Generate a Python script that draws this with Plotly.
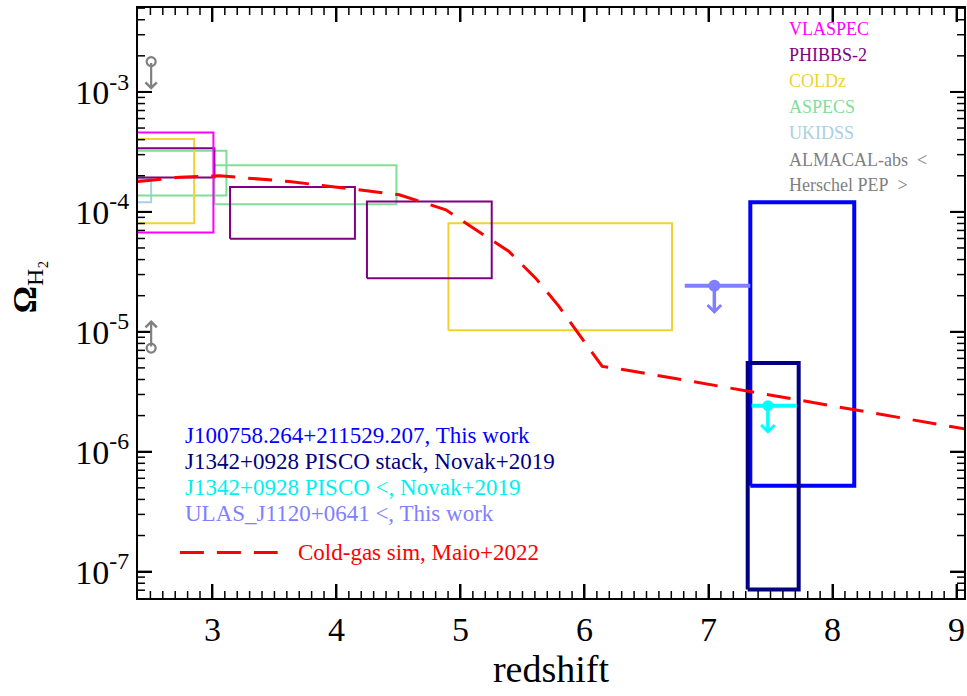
import numpy as np
import plotly.graph_objects as go

# ---------------- data ----------------
# survey boxes: redshift range and Omega_H2 range
vlaspec_z = [2.0, 3.008];   vlaspec_om = [6.73e-5, 4.58e-4]
phibbs_z = [[2.0, 3.016], [3.142, 4.149], [4.246, 5.252]]
phibbs_om = [[1.93e-4, 3.40e-4], [5.96e-5, 1.61e-4], [2.80e-5, 1.22e-4]]
coldz_z = [[2.0, 2.853], [4.903, 6.706]]
coldz_om = [[8.05e-5, 4.06e-4], [1.03e-5, 8.05e-5]]
aspecs_z = [[2.0, 3.113], [3.016, 4.484]]
aspecs_om = [[1.37e-4, 3.24e-4], [1.16e-4, 2.45e-4]]
ukidss_z = [2.0, 2.506];    ukidss_om = [1.20e-4, 1.88e-4]
j1007_z = [7.337, 8.175];   j1007_om = [5.21e-7, 1.20e-4]
pisco_stack_z = [7.316, 7.727]; pisco_stack_om = [7.08e-8, 5.48e-6]

# limits
almacal_z = 2.506;  almacal_om = 1.79e-3     # upper limit
herschel_z = 2.506; herschel_om = 7.31e-6    # lower limit
ulas_z = 7.047;     ulas_zerr = [6.808, 7.337];  ulas_om = 2.42e-5   # upper limit
pisco_z = 7.479;    pisco_zerr = [7.348, 7.71];  pisco_om = 2.42e-6  # upper limit

# simulation curve (Maio+2022)
sim_z = [2.396, 2.734, 3.056, 3.403, 3.62, 3.886, 4.184, 4.506, 4.882, 5.15,
         5.391, 5.606, 5.794, 5.969, 6.143, 6.358, 9.063]
sim_om = [1.79e-4, 1.94e-4, 2.0e-4, 1.88e-4, 1.79e-4, 1.66e-4, 1.52e-4, 1.39e-4,
          1.04e-4, 6.85e-5, 4.67e-5, 2.80e-5, 1.63e-5, 9.1e-6, 5.14e-6, 4.76e-6, 1.55e-6]

x_ticks = [3, 4, 5, 6, 7, 8, 9]
y_ticks = [1e-7, 1e-6, 1e-5, 1e-4, 1e-3]
y_ticktext = ["10<sup>-7</sup>", "10<sup>-6</sup>", "10<sup>-5</sup>", "10<sup>-4</sup>", "10<sup>-3</sup>"]

right_legend = [("VLASPEC", "#FF00FF"), ("PHIBBS-2", "#800080"), ("COLDz", "#F2D22E"),
                ("ASPECS", "#7FDF97"), ("UKIDSS", "#A9CFE0"),
                ("ALMACAL-abs\u00a0 <", "#808080"), ("Herschel PEP\u00a0 >", "#808080")]
left_legend = [("J100758.264+211529.207, This work", "#0000FF"),
               ("J1342+0928 PISCO stack, Novak+2019", "#000080"),
               ("J1342+0928 PISCO <, Novak+2019", "#00F0F0"),
               ("ULAS_J1120+0641 <, This work", "#8080FF")]
sim_label = "Cold-gas sim, Maio+2022"

# ---------------- styling ----------------
FONT = "Liberation Serif, Times New Roman, serif"
ARROW_DEX = 0.235
X_RANGE = [2.4, 9.06]
Y_RANGE = [-7.22, -2.3]
W, H = 967, 696
ML, MR, MT, MB = 138, 1, 8, 98
PW, PH = W - ML - MR, H - MT - MB
PX_PER_X = PW / (X_RANGE[1] - X_RANGE[0])     # pixels per redshift unit
PX_PER_DEX = PH / (Y_RANGE[1] - Y_RANGE[0])   # pixels per decade
C_MAG, C_PUR, C_YEL, C_GRN, C_LBL = "#FF00FF", "#800080", "#F2D22E", "#7FDF97", "#A9CFE0"

fig = go.Figure()


def seg(xs, ys, color, width, dash=None):
    fig.add_trace(go.Scatter(x=xs, y=ys, mode="lines",
                             line=dict(color=color, width=width, dash=dash),
                             hoverinfo="skip", showlegend=False))


def box(zr, omr, color, width):
    x0, x1 = zr
    y0, y1 = omr
    seg([x0, x1, x1, x0, x0], [y0, y0, y1, y1, y0], color, width)


box(ukidss_z, ukidss_om, C_LBL, 2)
for zr, omr in zip(aspecs_z, aspecs_om):
    box(zr, omr, C_GRN, 2)
for zr, omr in zip(coldz_z, coldz_om):
    box(zr, omr, C_YEL, 2)
for zr, omr in zip(phibbs_z, phibbs_om):
    box(zr, omr, C_PUR, 2)
box(vlaspec_z, vlaspec_om, C_MAG, 2)
box(j1007_z, j1007_om, "#0000FF", 4)
box(pisco_stack_z, pisco_stack_om, "#000080", 4)

# horizontal z-ranges of limits
seg(ulas_zerr, [ulas_om, ulas_om], "#8080FF", 4)
seg(pisco_zerr, [pisco_om, pisco_om], "#00FFFF", 4)

# simulation
seg(sim_z, sim_om, "#FF0000", 3, "24px,13px")


def limit_arrow(z, om, direction, color, width, size):
    ly = np.log10(om)
    tip = ly - ARROW_DEX if direction == "down" else ly + ARROW_DEX
    fig.add_annotation(x=z, y=tip, ax=z, ay=ly, xref="x", yref="y", axref="x", ayref="y",
                       text="", showarrow=True, arrowhead=4, arrowsize=size,
                       arrowwidth=width, arrowcolor=color)


limit_arrow(almacal_z, almacal_om, "down", "#808080", 2.2, 1.0)
limit_arrow(herschel_z, herschel_om, "up", "#808080", 2.2, 1.0)
limit_arrow(ulas_z, ulas_om, "down", "#8080FF", 3.5, 0.75)
limit_arrow(pisco_z, pisco_om, "down", "#00FFFF", 3.5, 0.75)

fig.add_trace(go.Scatter(x=[almacal_z, herschel_z], y=[almacal_om, herschel_om], mode="markers",
                         marker=dict(symbol="circle-open", size=9, color="#808080", line=dict(width=2.2)),
                         showlegend=False, hoverinfo="skip"))
fig.add_trace(go.Scatter(x=[ulas_z], y=[ulas_om], mode="markers",
                         marker=dict(symbol="circle", size=12, color="#8080FF"),
                         showlegend=False, hoverinfo="skip"))
fig.add_trace(go.Scatter(x=[pisco_z], y=[pisco_om], mode="markers",
                         marker=dict(symbol="circle", size=11, color="#00FFFF"),
                         showlegend=False, hoverinfo="skip"))

# ---- tick marks, inside on all four sides (axis decoration) ----
minor_x = [round(v, 1) for v in np.arange(2.5, 9.05, 0.1) if abs(v - round(v)) > 0.05]
y_lo, y_hi = 10 ** Y_RANGE[0], 10 ** Y_RANGE[1]
minor_y = [k * 10.0 ** n for n in range(-8, -1) for k in range(2, 10)
           if y_lo < k * 10.0 ** n < y_hi]


def ticks(xvals, yvals, length, width):
    dy = length / PX_PER_DEX
    dx = length / PX_PER_X
    for v in xvals:
        seg([v, v], [y_lo, 10 ** (Y_RANGE[0] + dy)], "#000000", width)
        seg([v, v], [y_hi, 10 ** (Y_RANGE[1] - dy)], "#000000", width)
    for v in yvals:
        seg([X_RANGE[0], X_RANGE[0] + dx], [v, v], "#000000", width)
        seg([X_RANGE[1], X_RANGE[1] - dx], [v, v], "#000000", width)


ticks(minor_x, minor_y, 7, 1.5)
ticks(x_ticks, y_ticks, 14, 2)

# legend texts
r_x = (789 - ML) / PW
r_y = [(H - MB - p) / PH for p in [29.3, 55, 80.7, 106.7, 132.7, 160, 185]]
for (t, c), yy in zip(right_legend, r_y):
    fig.add_annotation(x=r_x, y=yy, xref="paper", yref="paper", text=t, showarrow=False,
                       xanchor="left", yanchor="middle", font=dict(family=FONT, size=18, color=c))
l_x = (183 - ML) / PW
l_y = [(H - MB - p) / PH for p in [435, 461.7, 487.3, 513.3]]
for (t, c), yy in zip(left_legend, l_y):
    fig.add_annotation(x=l_x, y=yy, xref="paper", yref="paper", text=t, showarrow=False,
                       xanchor="left", yanchor="middle", font=dict(family=FONT, size=23, color=c))
sim_y = (H - MB - 552.5) / PH
fig.add_shape(type="line", xref="paper", yref="paper", x0=(180 - ML) / PW, x1=(278 - ML) / PW,
              y0=sim_y, y1=sim_y, line=dict(color="#FF0000", width=3, dash="24px,13px"))
fig.add_annotation(x=(296 - ML) / PW, y=sim_y, xref="paper", yref="paper", text=sim_label,
                   showarrow=False, xanchor="left", yanchor="middle",
                   font=dict(family=FONT, size=23, color="#FF0000"))

# y title
fig.add_annotation(x=(27 - ML) / PW, y=(H - MB - 287) / PH, xref="paper", yref="paper",
                   text="<b>Ω</b><sub>H₂</sub>", textangle=-90, showarrow=False,
                   xanchor="center", yanchor="middle", font=dict(family=FONT, size=34, color="black"))

common = dict(ticks="inside", ticklen=14, tickwidth=2, tickcolor="#000000",
              showline=True, linewidth=2, linecolor="#000000",
              mirror="allticks", showgrid=False, zeroline=False)

fig.update_layout(
    width=W, height=H, margin=dict(l=ML, r=MR, t=MT, b=MB),
    paper_bgcolor="white", plot_bgcolor="white", showlegend=False,
    font=dict(family=FONT, color="black"),
    xaxis=dict(range=X_RANGE, tickmode="array", tickvals=x_ticks,
               tickfont=dict(family=FONT, size=34),
               title=dict(text="redshift", font=dict(family=FONT, size=38), standoff=6), **common),
    yaxis=dict(type="log", range=Y_RANGE, tickmode="array", tickvals=y_ticks, ticktext=y_ticktext,
               tickfont=dict(family=FONT, size=34), **common),
)

fig.write_html("out.html")
